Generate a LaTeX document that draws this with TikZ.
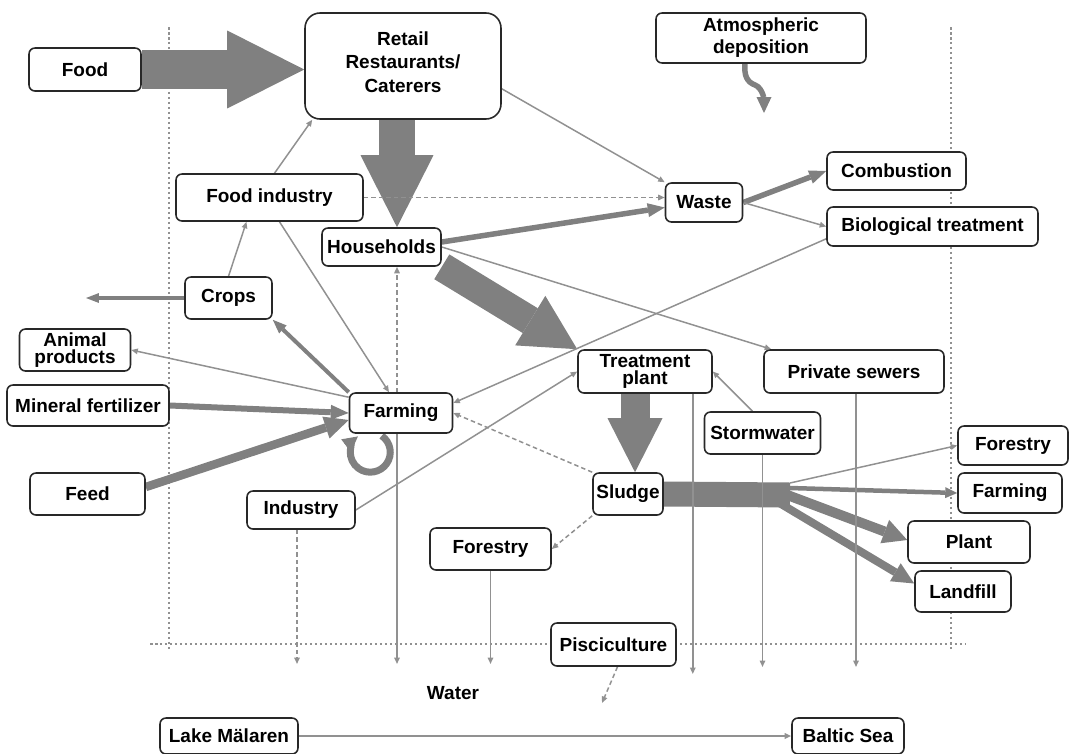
\documentclass[tikz,border=0pt]{standalone}
\usepackage{fontspec}
\setmainfont{Liberation Sans}
\usetikzlibrary{arrows.meta, calc, backgrounds}
\definecolor{flowgray}{RGB}{128,128,128}
\definecolor{linegray}{RGB}{145,145,145}
\definecolor{edgegray}{RGB}{40,40,40}

\begin{document}
\begin{tikzpicture}[x=0.02cm, y=-0.02cm,
  box/.style={draw=edgegray, line width=0.9pt, rounded corners=0.12cm, fill=white,
              align=center, inner sep=1pt,
              font=\fontsize{10.8}{12.5}\selectfont\bfseries},
  tight/.style={font=\fontsize{10.8}{9.6}\selectfont\bfseries},
  flow/.style={draw=flowgray, line width=#1},
  thinflow/.style={draw=linegray, line width=0.85pt,
                   -{Triangle[length=0.13cm,width=0.11cm]}},
  dashflow/.style={thinflow, dash pattern=on 0.09cm off 0.06cm},
  border/.style={draw=linegray, line width=0.6pt, dash pattern=on 0.05cm off 0.05cm},
]
\useasboundingbox (0,0) rectangle (1069,754);

%% Boxes
\foreach \n/\x/\y/\w/\h/\t in {
    food/85/69.5/2.24cm/0.86cm/Food,
    foodind/269.5/197.5/3.74cm/0.94cm/Food industry,
    house/381.5/247/2.38cm/0.76cm/Households,
    waste/704/202.5/1.54cm/0.78cm/Waste,
    comb/896.5/171/2.78cm/0.76cm/Combustion,
    bio/932.5/226.5/4.22cm/0.78cm/Biological treatment,
    crops/228.5/298/1.74cm/0.84cm/Crops,
    mineral/88/405.5/3.24cm/0.82cm/Mineral fertilizer,
    farming/401/413/2.06cm/0.8cm/Farming,
    feed/87.5/494/2.3cm/0.84cm/Feed,
    industry/301/510/2.16cm/0.76cm/Industry,
    sewers/854/371.5/3.6cm/0.86cm/Private sewers,
    storm/762.5/433/2.32cm/0.84cm/Stormwater,
    sludge/628/494/1.4cm/0.84cm/Sludge,
    forestR/1013/445.5/2.2cm/0.78cm/Forestry,
    farmR/1010/493/2.08cm/0.8cm/Farming,
    plant/969/542/2.44cm/0.84cm/Plant,
    landfill/963/591.5/1.92cm/0.82cm/Landfill,
    forestL/490.5/549/2.42cm/0.84cm/Forestry,
    pisci/613.5/644.5/2.5cm/0.86cm/Pisciculture,
    lake/229/736/2.76cm/0.72cm/Lake Mälaren,
    baltic/848/736/2.24cm/0.72cm/Baltic Sea}{
  \node[box, minimum width=\w, minimum height=\h] (\n) at (\x,\y) {\t};
}
\node[box, rounded corners=0.3cm, minimum width=3.92cm, minimum height=2.12cm]
  (retail) at (403,66) {Retail\\[1pt]Restaurants/\\[1pt]Caterers\\[-8pt]\mbox{}};
\node[box, minimum width=4.2cm, minimum height=1cm]
  (atmo) at (761,38) {Atmospheric\\deposition};
\node[box, tight, minimum width=2.22cm, minimum height=0.84cm]
  (animal) at (75,350) {Animal\\products};
\node[box, tight, minimum width=2.68cm, minimum height=0.86cm]
  (treat) at (645,371.5) {Treatment\\plant};
\node[font=\fontsize{10.8}{12.5}\selectfont\bfseries] (water) at (453,693) {Water};

\coordinate (split) at (790,495);
\coordinate (cropsout) at (86,298);
\coordinate (atmoin) at (764,113);
\coordinate (pisciout) at (602,703);
\coordinate (loopin) at ($(farming.south west)+(33,2)$);
\coordinate (wl) at (0,664);
\coordinate (wl2) at (0,667);
\coordinate (wl3) at (0,674);

\begin{scope}[on background layer]
%% System borders
\draw[border] (169,27) -- (169,650);
\draw[border] (951,27) -- (951,650);
\draw[border] (150,644) -- (965,644);

%% Main flows
\draw[flow=0.78cm, -{Triangle[length=1.54cm,width=1.56cm,line width=0pt]}]
  (food.east) -- (food.east -| retail.west);
\draw[flow=0.72cm, -{Triangle[length=1.44cm,width=1.46cm,line width=0pt]}]
  ([xshift=-0.12cm]retail.south) -- ([xshift=-0.12cm]retail.south |- house.north);
\draw[flow=0.58cm, -{Triangle[length=1.1cm,width=1.16cm,line width=0pt]}]
  (house.south east) -- (treat.north west);
\draw[flow=0.58cm, -{Triangle[length=1.08cm,width=1.1cm,line width=0pt]}]
  ([xshift=-0.2cm]treat.south) -- ([xshift=-0.2cm]treat.south |- sludge.north);
\draw[flow=0.5cm] (sludge.east) -- (split);

%% Sludge use
\draw[thinflow] ($(split)+(0,-12)$) -- (forestR.west);
\draw[flow=0.09cm, -{Triangle[length=0.24cm,width=0.22cm,line width=0pt]}]
  ($(split)+(0,-7)$) -- (farmR.west);
\draw[flow=0.2cm, -{Triangle[length=0.48cm,width=0.5cm,line width=0pt]}]
  ($(split)+(-8,-2)$) -- ($(plant.west)+(0,-2)$);
\draw[flow=0.16cm, -{Triangle[length=0.44cm,width=0.42cm,line width=0pt]}]
  ($(split)+(-14,6)$) -- ($(landfill.west)+(0,-8)$);

%% Medium flows
\draw[flow=0.11cm, -{Triangle[length=0.34cm,width=0.28cm,line width=0pt]}]
  ($(house.east)+(0,-5)$) -- ($(waste.west)+(0,5)$);
\draw[flow=0.11cm, -{Triangle[length=0.34cm,width=0.28cm,line width=0pt]}]
  (waste.east) -- (comb.west);
\draw[flow=0.12cm, -{Triangle[length=0.36cm,width=0.3cm,line width=0pt]}]
  (mineral.east) -- (farming.west);
\draw[flow=0.17cm, -{Triangle[length=0.48cm,width=0.46cm,line width=0pt]}]
  ($(feed.east)+(0,-7)$) -- ($(farming.west)+(0,7)$);
\draw[flow=0.07cm, -{Triangle[length=0.26cm,width=0.2cm,line width=0pt]}]
  (crops.west) -- (cropsout);
\draw[flow=0.08cm, -{Triangle[length=0.28cm,width=0.22cm,line width=0pt]}]
  (farming.north west) -- (crops.south east);
\draw[flow=0.14cm, -{Triangle[length=0.3cm,width=0.32cm,line width=0pt]}]
  (loopin) arc[start angle=-55, end angle=232, radius=20];
\draw[flow=0.11cm, -{Triangle[length=0.32cm,width=0.3cm,line width=0pt]}]
  ($(atmo.south)+(-16,0)$) .. controls +(-1,12) and +(-8,-3) .. (755,85)
  .. controls +(8,3) and +(0,-12) .. (atmoin);

%% Thin flows
\draw[thinflow] ($(retail.south east)+(0,-31)$) -- (waste.north west);
\draw[dashflow] (foodind.east) -- (foodind.east -| waste.west);
\draw[thinflow] (waste.east) -- (bio.west);
\draw[thinflow] ($(bio.south west)+(0,-8)$) -- ($(farming.east)+(0,-10)$);
\draw[thinflow] ($(foodind.north)+(5,0)$) -- ($(retail.south west)+(8,0)$);
\draw[thinflow] (crops.north) -- ($(foodind.south)+(-23,0)$);
\draw[thinflow] ($(foodind.south)+(10,0)$) -- ($(farming.north)+(-12,0)$);
\draw[thinflow] ($(farming.north west)+(0,5)$) -- (animal.east);
\draw[dashflow] ([xshift=-0.08cm]farming.north) -- ([xshift=-0.08cm]farming.north |- house.south);
\draw[thinflow] (house.east) -- ($(sewers.north west)+(8,0)$);
\draw[thinflow] (industry.east) -- (treat.west);
\draw[dashflow] (sludge.north west) -- (farming.east);
\draw[dashflow] (sludge.south west) -- (forestL.east);
\draw[thinflow] ($(storm.north)+(-10,0)$) -- (treat.east);

%% To water
\draw[thinflow] ([xshift=-0.08cm]farming.south) -- ([xshift=-0.08cm]farming.south |- wl);
\draw[dashflow] ([xshift=-0.08cm]industry.south) -- ([xshift=-0.08cm]industry.south |- wl);
\draw[thinflow] (forestL.south) -- (forestL.south |- wl);
\draw[thinflow] ([xshift=-0.4cm]treat.south east) -- ([xshift=-0.4cm]treat.south east |- wl3);
\draw[thinflow] (storm.south) -- (storm.south |- wl2);
\draw[thinflow] ([xshift=0.04cm]sewers.south) -- ([xshift=0.04cm]sewers.south |- wl2);
\draw[dashflow] ($(pisci.south)+(4,0)$) -- (pisciout);
\draw[thinflow, line width=1.1pt] (lake.east) -- (baltic.west);
\end{scope}
\end{tikzpicture}
\end{document}
